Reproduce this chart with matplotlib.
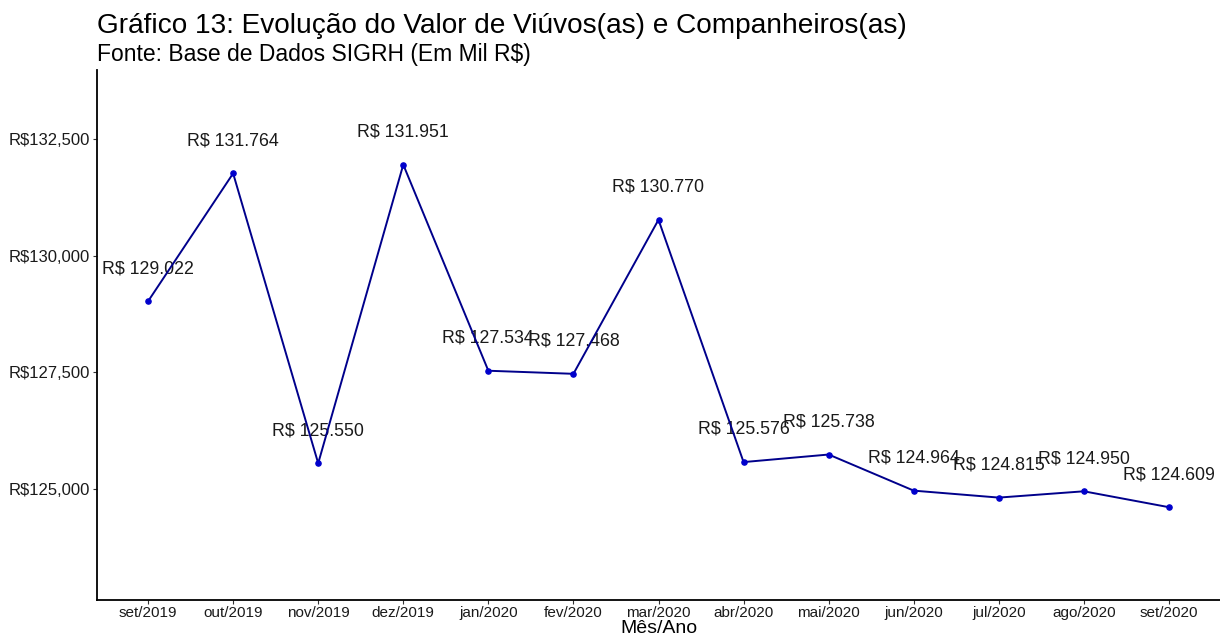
import matplotlib.pyplot as plt
from matplotlib.ticker import FuncFormatter

plt.rcParams['font.family'] = ['Liberation Sans', 'DejaVu Sans']

meses = ["set/2019", "out/2019", "nov/2019", "dez/2019", "jan/2020", "fev/2020", "mar/2020",
         "abr/2020", "mai/2020", "jun/2020", "jul/2020", "ago/2020", "set/2020"]
valores = [129022, 131764, 125550, 131951, 127534, 127468, 130770,
           125576, 125738, 124964, 124815, 124950, 124609]
yticks = [125000, 127500, 130000, 132500]

fig = plt.figure(figsize=(12.2, 6.35), dpi=100)
ax = fig.add_axes([97 / 1220, 35 / 635, (1220 - 97) / 1220, (600 - 70) / 635])

x = list(range(len(meses)))
# labels first, line on top (like the ggplot original)
for xi, v in zip(x, valores):
    rotulo = "R$ " + f"{v:,}".replace(",", ".")
    ax.text(xi, v + 700, rotulo, ha="center", va="center", fontsize=12.8, color="#1a1a1a", zorder=1)
ax.plot(x, valores, color="#00008B", lw=1.4, zorder=2)
ax.scatter(x, valores, color="#0000CC", s=14, zorder=3)

ax.set_xlim(-0.6, len(meses) - 0.4)
ax.set_ylim(122620, 133980)
ax.set_xticks(x)
ax.set_xticklabels(meses, fontsize=11)
ax.set_yticks(yticks)
ax.yaxis.set_major_formatter(FuncFormatter(lambda v, p: f"R${v:,.0f}"))
ax.tick_params(axis="y", labelsize=12, length=3, color="#333333", pad=2)
ax.tick_params(axis="x", length=3, color="#333333", pad=1)
for lbl in ax.get_yticklabels() + ax.get_xticklabels():
    lbl.set_color("#1a1a1a")

for s in ["top", "right"]:
    ax.spines[s].set_visible(False)
for s in ["left", "bottom"]:
    ax.spines[s].set_linewidth(1.3)
    ax.spines[s].set_color("black")

ax.set_xlabel("Mês/Ano", fontsize=14, va="center")
ax.xaxis.set_label_coords(0.5, -0.053)

fig.text(97 / 1220, 1 - 26 / 635, "Gráfico 13: Evolução do Valor de Viúvos(as) e Companheiros(as)",
         fontsize=20.2, va="center", ha="left")
fig.text(97 / 1220, 1 - 55 / 635, "Fonte: Base de Dados SIGRH (Em Mil R$)",
         fontsize=16.5, va="center", ha="left")

fig.savefig("out.png", dpi=100)
